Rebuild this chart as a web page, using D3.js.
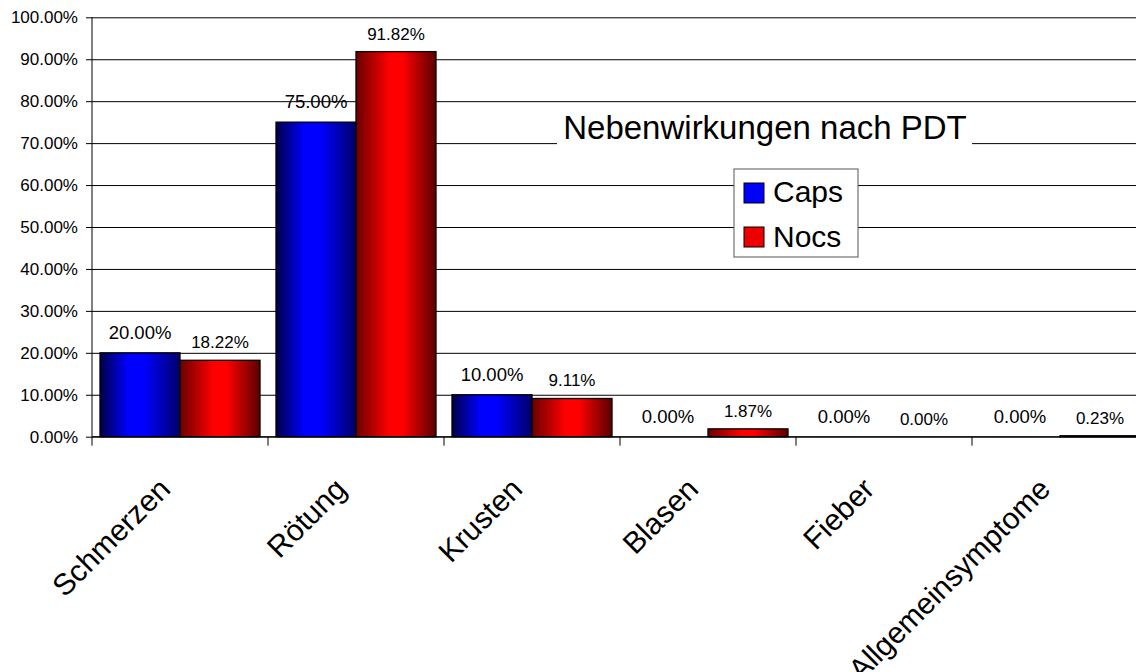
<!DOCTYPE html>
<html>
<head>
<meta charset="utf-8">
<script src="https://cdn.jsdelivr.net/npm/d3@7"></script>
<style>
  body { margin: 0; background: #fff; }
  svg { display: block; font-family: "Liberation Sans", Arial, sans-serif; }
</style>
</head>
<body>
<div id="chart"></div>
<script>
// Data
const categories = ['Schmerzen', 'Rötung', 'Krusten', 'Blasen', 'Fieber', 'Allgemeinsymptome'];
const seriesNames = ['Caps', 'Nocs'];
const capsValues = [20.00, 75.00, 10.00, 0.00, 0.00, 0.00];
const nocsValues = [18.22, 91.82, 9.11, 1.87, 0.00, 0.23];
const yTicks = [0, 10, 20, 30, 40, 50, 60, 70, 80, 90, 100];
const chartTitle = 'Nebenwirkungen nach PDT';

const width = 1136, height = 672;
const margin = { left: 92, top: 17.3, bottom: 436.7 };

const svg = d3.select('#chart').append('svg')
  .attr('width', width)
  .attr('height', height);

svg.append('rect').attr('width', width).attr('height', height).attr('fill', '#fff');

// Gradients
const defs = svg.append('defs');
function gradient(id, stops) {
  const g = defs.append('linearGradient').attr('id', id)
    .attr('x1', '0%').attr('x2', '100%').attr('y1', '0%').attr('y2', '0%');
  stops.forEach(s => g.append('stop').attr('offset', s[0]).attr('stop-color', s[1]));
}
gradient('gradCaps', [['0%', '#000048'], ['35%', '#0000ff'], ['55%', '#0000ff'], ['100%', '#00006a']]);
gradient('gradNocs', [['0%', '#6a0000'], ['42%', '#ff0000'], ['58%', '#ff0000'], ['100%', '#5a0000']]);

// Scales
const xScale = d3.scaleBand()
  .domain(categories)
  .range([margin.left, margin.left + 176 * categories.length])
  .paddingInner(0).paddingOuter(0);

const xInner = d3.scaleBand()
  .domain(seriesNames)
  .range([0, xScale.bandwidth()])
  .paddingInner(0).paddingOuter(0.1);

const yScale = d3.scaleLinear()
  .domain([0, 100])
  .range([margin.bottom, margin.top]);

// Gridlines
svg.append('g')
  .attr('class', 'grid')
  .attr('transform', `translate(${margin.left},0)`)
  .call(d3.axisRight(yScale).tickValues(yTicks).tickSize(width - margin.left).tickFormat(''))
  .call(g => g.select('.domain').remove())
  .call(g => g.selectAll('line').attr('stroke', '#000').attr('stroke-width', 1));

// Title (white box hides gridline)
svg.append('rect')
  .attr('x', 557).attr('y', 112).attr('width', 415).attr('height', 40)
  .attr('fill', '#fff');
svg.append('text')
  .attr('x', 765).attr('y', 139)
  .attr('text-anchor', 'middle')
  .attr('font-size', 33)
  .attr('fill', '#000')
  .text(chartTitle);

// Bars
const rows = categories.map((c, i) => ({ cat: c, Caps: capsValues[i], Nocs: nocsValues[i] }));

const groups = svg.selectAll('.group')
  .data(rows)
  .enter().append('g')
  .attr('class', 'group')
  .attr('transform', d => `translate(${xScale(d.cat)},0)`);

groups.selectAll('rect')
  .data(d => seriesNames.map(s => ({ s, v: d[s] })))
  .enter().append('rect')
  .filter(d => d.v > 0)
  .attr('x', d => xInner(d.s))
  .attr('y', d => yScale(d.v))
  .attr('width', xInner.bandwidth())
  .attr('height', d => yScale(0) - yScale(d.v))
  .attr('fill', d => `url(#grad${d.s})`)
  .attr('stroke', '#000')
  .attr('stroke-width', 1.3);

// Value labels
groups.selectAll('.val')
  .data(d => seriesNames.map(s => ({ s, v: d[s] })))
  .enter().append('text')
  .attr('class', 'val')
  .attr('x', d => xInner(d.s) + xInner.bandwidth() / 2)
  .attr('y', d => yScale(d.v) - (d.s === 'Caps' ? 14 : 12))
  .attr('text-anchor', 'middle')
  .attr('font-size', d => d.s === 'Caps' ? 18.5 : 17)
  .attr('fill', '#000')
  .text(d => d.v.toFixed(2) + '%');

// Y axis
svg.append('line')
  .attr('x1', margin.left).attr('x2', margin.left)
  .attr('y1', margin.top).attr('y2', margin.bottom + 9)
  .attr('stroke', '#000');

const yAxis = svg.append('g')
  .attr('transform', `translate(${margin.left},0)`)
  .call(d3.axisLeft(yScale).tickValues(yTicks).tickSize(6).tickPadding(8)
    .tickFormat(d => d.toFixed(2) + '%'));
yAxis.select('.domain').remove();
yAxis.selectAll('line').attr('stroke', '#000');
yAxis.selectAll('text')
  .attr('font-size', 17)
  .attr('font-family', '"Liberation Sans", Arial, sans-serif')
  .attr('fill', '#000');

// X axis baseline and boundary ticks
svg.append('line')
  .attr('x1', margin.left).attr('x2', width)
  .attr('y1', yScale(0)).attr('y2', yScale(0))
  .attr('stroke', '#000');

svg.selectAll('.xtick')
  .data(categories.slice(1))
  .enter().append('line')
  .attr('class', 'xtick')
  .attr('x1', d => xScale(d)).attr('x2', d => xScale(d))
  .attr('y1', yScale(0)).attr('y2', yScale(0) + 9)
  .attr('stroke', '#000');

// Category labels (the last one runs off the bottom edge, as in the original)
svg.selectAll('.xlabel')
  .data(categories)
  .enter().append('text')
  .attr('class', 'xlabel')
  .attr('text-anchor', 'end')
  .attr('font-size', 30)
  .attr('fill', '#000')
  .attr('transform', d => `translate(${xScale(d) + xScale.bandwidth() / 2 - 8},491) rotate(-45)`)
  .text(d => d);

// Legend
const legend = svg.append('g').attr('transform', 'translate(734,169)');
legend.append('rect')
  .attr('width', 124).attr('height', 88)
  .attr('fill', '#fff')
  .attr('stroke', '#555');
const legendColors = { Caps: '#0000ff', Nocs: '#ee0000' };
seriesNames.forEach((s, i) => {
  legend.append('rect')
    .attr('x', 10).attr('y', 14 + i * 44)
    .attr('width', 20).attr('height', 20)
    .attr('fill', legendColors[s])
    .attr('stroke', '#000');
  legend.append('text')
    .attr('x', 39).attr('y', 33 + i * 45)
    .attr('font-size', 30)
    .attr('fill', '#000')
    .text(s);
});
</script>
</body>
</html>
